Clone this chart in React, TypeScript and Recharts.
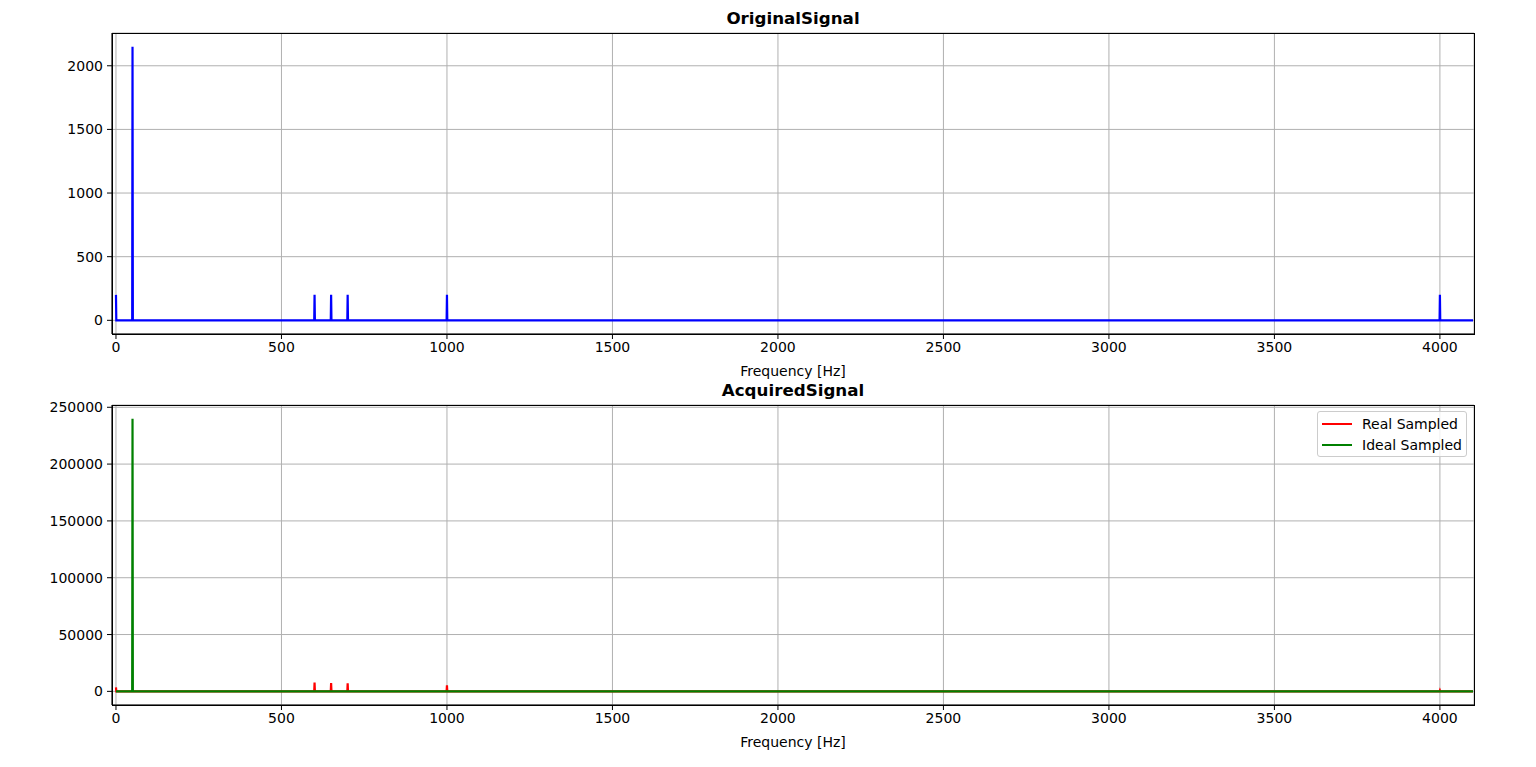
import React from 'react';
import { LineChart, Line, XAxis, YAxis, CartesianGrid, Legend } from 'recharts';

// ---- data ----
const FREQ_END = 4100;
const origFreqs = [0, 50, 600, 650, 700, 1000, 4000];
const origAmps = [200, 2150, 200, 200, 200, 200, 200];

const realFreqs = [0, 600, 650, 700, 1000, 4000];
const realAmps = [3500, 7800, 7300, 7000, 5300, 800];

const idealFreqs = [50];
const idealAmps = [240000];

const xTicks = [0, 500, 1000, 1500, 2000, 2500, 3000, 3500, 4000];
const yTicksTop = [0, 500, 1000, 1500, 2000];
const yTicksBottom = [0, 50000, 100000, 150000, 200000, 250000];

function buildSpikes(freqs: number[], amps: number[]) {
  const pts: { f: number; v: number }[] = [];
  if (freqs[0] !== 0) pts.push({ f: 0, v: 0 });
  freqs.forEach((f, i) => {
    if (f > 0) pts.push({ f: f - 1, v: 0 });
    pts.push({ f, v: amps[i] });
    pts.push({ f: f + 1, v: 0 });
  });
  pts.push({ f: FREQ_END, v: 0 });
  return pts;
}

const origData = buildSpikes(origFreqs, origAmps);
const realData = buildSpikes(realFreqs, realAmps);
const idealData = buildSpikes(idealFreqs, idealAmps);

const FONT = 'DejaVu Sans, sans-serif';
const tickStyle = { fontSize: 14, fill: '#000', fontFamily: FONT };
const W = 1536;
const Y_AXIS_W = 60;

const LegendBox = () => (
  <div
    style={{
      position: 'absolute',
      left: 1317,
      top: 411 - 383,
      width: 150,
      height: 46,
      background: 'rgba(255,255,255,0.8)',
      border: '1px solid #cccccc',
      borderRadius: 3,
      fontFamily: FONT,
      fontSize: 14,
      color: '#000',
      boxSizing: 'border-box',
    }}
  >
    {[
      { name: 'Real Sampled', color: '#ff0000' },
      { name: 'Ideal Sampled', color: '#008000' },
    ].map((e, i) => (
      <div key={e.name} style={{ position: 'absolute', left: 4, top: 2 + i * 21, height: 20, display: 'flex', alignItems: 'center' }}>
        <div style={{ width: 30, height: 2, background: e.color, marginRight: 10 }} />
        <span>{e.name}</span>
      </div>
    ))}
  </div>
);

const FrameBox = ({ top, height }: { top: number; height: number }) => (
  <div
    style={{
      position: 'absolute',
      left: 112,
      top,
      width: 1363,
      height,
      border: '1px solid #000',
      boxSizing: 'border-box',
      pointerEvents: 'none',
    }}
  />
);

export default function App() {
  return (
    <div style={{ position: 'absolute', left: 0, top: 0, width: W, height: 767, background: '#fff' }}>
      <div style={{ position: 'absolute', left: 112, width: 1362, top: 8, textAlign: 'center', fontFamily: FONT, fontWeight: 'bold', fontSize: 16.7 }}>
        OriginalSignal
      </div>
      <div style={{ position: 'absolute', left: 0, top: 0 }}>
        <LineChart width={W} height={383} margin={{ top: 33, right: 62, bottom: 0, left: 112 - Y_AXIS_W }}>
          <CartesianGrid stroke="#b0b0b0" strokeWidth={1} horizontal vertical />
          <XAxis
            dataKey="f"
            type="number"
            domain={[-12, 4103]}
            allowDataOverflow
            ticks={xTicks}
            height={49}
            tickSize={5}
            tickMargin={3}
            tick={tickStyle}
            stroke="#000"
            label={{ value: 'Frequency [Hz]', position: 'insideBottom', offset: 7, style: { fontSize: 14, fill: '#000', fontFamily: FONT } }}
          />
          <YAxis
            type="number"
            domain={[-107.5, 2257.5]}
            allowDataOverflow
            ticks={yTicksTop}
            width={Y_AXIS_W}
            tickSize={5}
            tickMargin={4}
            tick={tickStyle}
            stroke="#000"
          />
          <Line data={origData} dataKey="v" stroke="#0000ff" strokeWidth={2.2} dot={false} isAnimationActive={false} />
        </LineChart>
        <FrameBox top={33} height={302} />
      </div>
      <div style={{ position: 'absolute', left: 112, width: 1362, top: 380, textAlign: 'center', fontFamily: FONT, fontWeight: 'bold', fontSize: 16.7 }}>
        AcquiredSignal
      </div>
      <div style={{ position: 'absolute', left: 0, top: 383 }}>
        <LineChart width={W} height={384} margin={{ top: 22, right: 62, bottom: 0, left: 112 - Y_AXIS_W }}>
          <CartesianGrid stroke="#b0b0b0" strokeWidth={1} horizontal vertical />
          <XAxis
            dataKey="f"
            type="number"
            domain={[-12, 4103]}
            allowDataOverflow
            ticks={xTicks}
            height={62}
            tickSize={5}
            tickMargin={3}
            tick={tickStyle}
            stroke="#000"
            label={{ value: 'Frequency [Hz]', position: 'insideBottom', offset: 20, style: { fontSize: 14, fill: '#000', fontFamily: FONT } }}
          />
          <YAxis
            type="number"
            domain={[-12000, 252000]}
            allowDataOverflow
            ticks={yTicksBottom}
            width={Y_AXIS_W}
            tickSize={5}
            tickMargin={4}
            tick={tickStyle}
            stroke="#000"
          />
          <Line data={realData} dataKey="v" name="Real Sampled" stroke="#ff0000" strokeWidth={2.2} dot={false} isAnimationActive={false} />
          <Line data={idealData} dataKey="v" name="Ideal Sampled" stroke="#008000" strokeWidth={2.2} dot={false} isAnimationActive={false} />
          <Legend content={() => null} />
        </LineChart>
        <FrameBox top={22} height={301} />
        <LegendBox />
      </div>
    </div>
  );
}
